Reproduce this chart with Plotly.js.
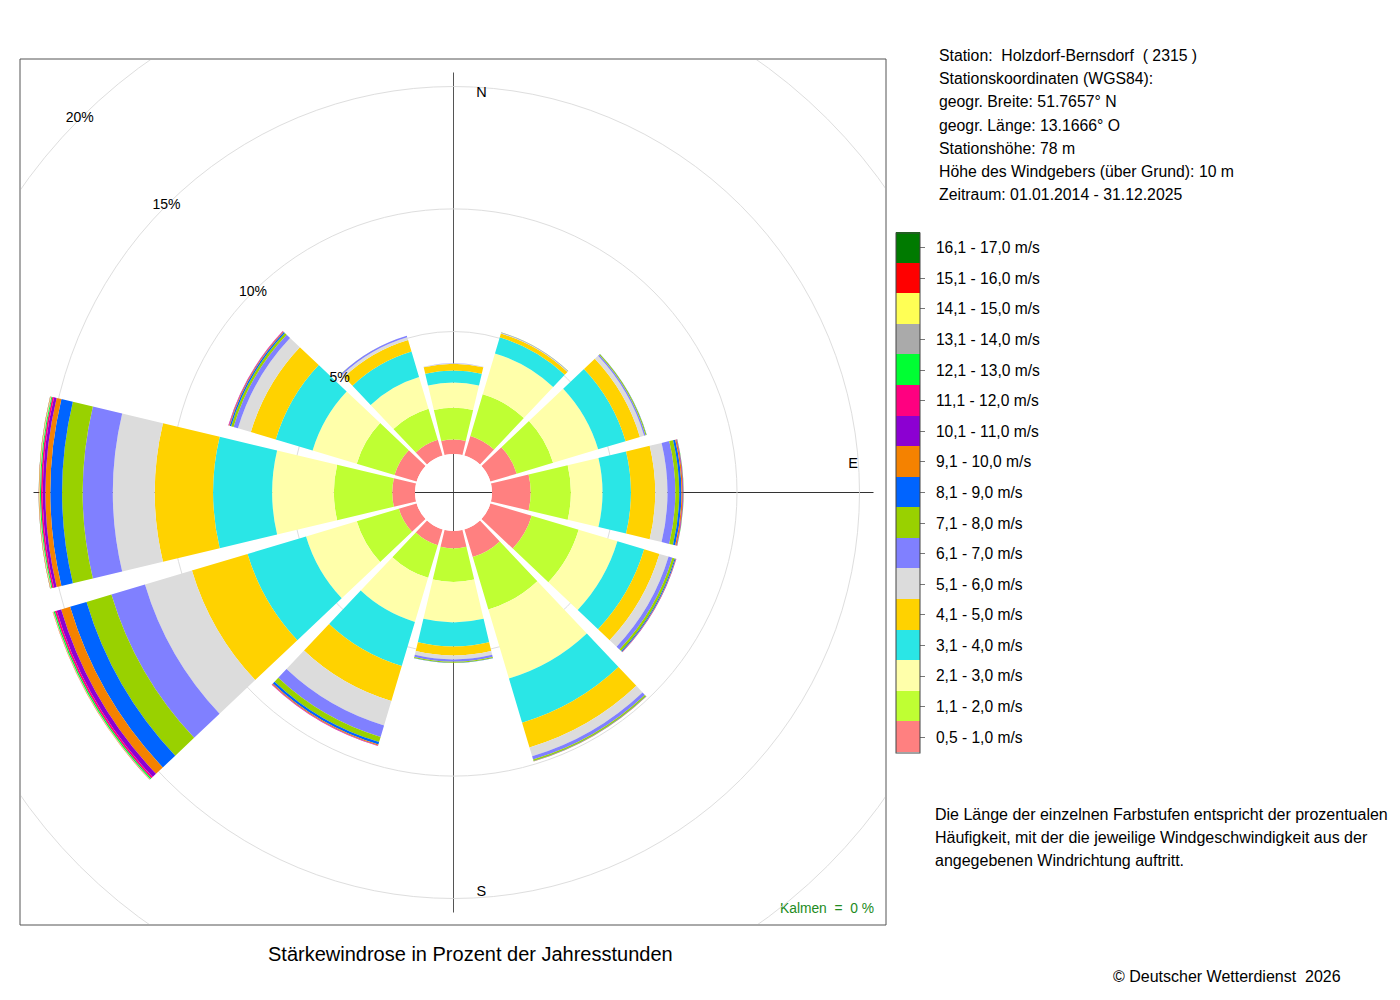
<!DOCTYPE html>
<html>
<head>
<meta charset="utf-8">
<script src="https://cdn.plot.ly/plotly-3.0.1.min.js"></script>
<style>
  html, body { margin:0; padding:0; background:#fff; }
  #bg { position:absolute; left:0; top:0; width:1400px; height:1000px; }
  #clip { position:absolute; left:21px; top:60px; width:864px; height:864px; overflow:hidden; }
  #rose { position:absolute; }
</style>
</head>
<body>
<div id="bg"></div>
<div id="clip"><div id="rose"></div></div>
<script>
// ---------------- data ----------------
const directions = [0, 30, 60, 90, 120, 150, 180, 210, 240, 270, 300, 330];

const speedLabels = [
  '0,5 - 1,0 m/s', '1,1 - 2,0 m/s', '2,1 - 3,0 m/s', '3,1 - 4,0 m/s',
  '4,1 - 5,0 m/s', '5,1 - 6,0 m/s', '6,1 - 7,0 m/s', '7,1 - 8,0 m/s',
  '8,1 - 9,0 m/s', '9,1 - 10,0 m/s', '10,1 - 11,0 m/s', '11,1 - 12,0 m/s',
  '12,1 - 13,0 m/s', '13,1 - 14,0 m/s', '14,1 - 15,0 m/s', '15,1 - 16,0 m/s',
  '16,1 - 17,0 m/s'
];
const speedColors = [
  '#FF8080', '#BFFF33', '#FFFFAA', '#2AE6E6', '#FFD200', '#DCDCDC',
  '#8080FF', '#99D100', '#0064FF', '#F58200', '#8C00D2', '#FF0080',
  '#00FF33', '#AAAAAA', '#FFFF55', '#FF0000', '#007A00'
];

// percentage of annual hours per direction (N, 30, 60, ... 330)
const v05_10  = [0.59, 0.84, 1.12, 1.58, 1.76, 1.18, 0.71, 0.67, 0.76, 0.93, 0.94, 0.67];
const v11_20  = [1.30, 1.77, 1.55, 1.64, 2.00, 2.23, 1.37, 1.39, 1.79, 2.38, 1.61, 1.33];
const v21_30  = [1.03, 1.74, 1.92, 1.29, 1.65, 2.94, 1.65, 1.88, 2.16, 2.52, 1.88, 1.35];
const v31_40  = [0.49, 0.69, 1.17, 1.16, 1.14, 1.88, 0.98, 1.88, 2.49, 2.41, 1.57, 1.08];
const v41_50  = [0.27, 0.16, 0.61, 0.99, 0.65, 1.06, 0.37, 1.49, 2.37, 2.38, 1.06, 0.49];
const v51_60  = [0.02, 0.02, 0.18, 0.50, 0.39, 0.37, 0.16, 1.04, 2.00, 1.71, 0.55, 0.12];
const v61_70  = [0.01, 0.02, 0.06, 0.32, 0.16, 0.14, 0.09, 0.49, 1.43, 1.23, 0.19, 0.06];
const v71_80  = [0.00, 0.01, 0.04, 0.16, 0.10, 0.06, 0.04, 0.22, 1.06, 0.84, 0.10, 0.01];
const v81_90  = [0.00, 0.00, 0.01, 0.09, 0.04, 0.02, 0.01, 0.10, 0.70, 0.48, 0.06, 0.00];
const v91_100 = [0.00, 0.00, 0.00, 0.05, 0.02, 0.01, 0.00, 0.04, 0.38, 0.20, 0.03, 0.00];
const v101_110= [0.00, 0.00, 0.00, 0.02, 0.01, 0.00, 0.00, 0.02, 0.19, 0.11, 0.02, 0.00];
const v111_120= [0.00, 0.00, 0.00, 0.01, 0.00, 0.00, 0.00, 0.01, 0.08, 0.07, 0.01, 0.00];
const v121_130= [0.00, 0.00, 0.00, 0.01, 0.00, 0.00, 0.00, 0.00, 0.05, 0.04, 0.00, 0.00];
const v131_140= [0.00, 0.00, 0.00, 0.00, 0.00, 0.00, 0.00, 0.00, 0.02, 0.02, 0.00, 0.00];
const v141_150= [0.00, 0.00, 0.00, 0.00, 0.00, 0.00, 0.00, 0.00, 0.01, 0.02, 0.00, 0.00];
const v151_160= [0.00, 0.00, 0.00, 0.00, 0.00, 0.00, 0.00, 0.00, 0.01, 0.01, 0.00, 0.00];
const v161_170= [0.00, 0.00, 0.00, 0.00, 0.00, 0.00, 0.00, 0.00, 0.00, 0.005, 0.00, 0.00];

const series = [v05_10, v11_20, v21_30, v31_40, v41_50, v51_60, v61_70, v71_80,
  v81_90, v91_100, v101_110, v111_120, v121_130, v131_140, v141_150, v151_160, v161_170];

const ringValues = [5, 10, 15, 20];
const ringLabels = ['5%', '10%', '15%', '20%'];
const compassLabels = ['N', 'E', 'S'];
const compassTheta = [4, 86, 176];

const stationInfo = [
  'Station:  Holzdorf-Bernsdorf  ( 2315 )',
  'Stationskoordinaten (WGS84):',
  'geogr. Breite: 51.7657° N',
  'geogr. Länge: 13.1666° O',
  'Stationshöhe: 78 m',
  'Höhe des Windgebers (über Grund): 10 m',
  'Zeitraum: 01.01.2014 - 31.12.2025'
];
const explanation = [
  'Die Länge der einzelnen Farbstufen entspricht der prozentualen',
  'Häufigkeit, mit der die jeweilige Windgeschwindigkeit aus der',
  'angegebenen Windrichtung auftritt.'
];
const chartTitle = 'Stärkewindrose in Prozent der Jahresstunden';
const calmText = 'Kalmen  =  0 %';
const copyright = '© Deutscher Wetterdienst  2026';

// ---------------- geometry ----------------
const FONT = 'Liberation Sans, Arial, Helvetica, sans-serif';
const W = 1400, H = 1000;
const CX = 453, CY = 492;           // rose centre on page
const HOLE_PX = 38.5;               // radius of the empty centre
const PX_PER_PCT = 24.5;            // radial scale
const RMAX = 22;                    // radial range shown (clipped by frame)
const RADIUS = HOLE_PX + PX_PER_PCT * RMAX;
const SIZE = 2 * RADIUS;
const CLIP_L = 21, CLIP_T = 60;
const LABEL_R = (400.5 - HOLE_PX) / PX_PER_PCT;  // compass label radius in %
const CROSS_PX = 420;               // half length of the N-S / E-W lines

// ---------------- rose ----------------
const roseDiv = document.getElementById('rose');
roseDiv.style.left = (CX - CLIP_L - RADIUS) + 'px';
roseDiv.style.top = (CY - CLIP_T - RADIUS) + 'px';
roseDiv.style.width = SIZE + 'px';
roseDiv.style.height = SIZE + 'px';

const roseTraces = series.map((vals, i) => ({
  type: 'barpolar',
  r: vals,
  theta: directions,
  width: directions.map(() => 26.8),
  name: speedLabels[i],
  marker: { color: speedColors[i], line: { width: 0 } },
  hoverinfo: 'skip',
  showlegend: false
}));

roseTraces.push({
  type: 'scatterpolar',
  mode: 'text',
  r: ringValues,
  theta: ringValues.map(() => 315),
  text: ringLabels,
  textposition: 'middle center',
  textfont: { family: FONT, size: 14, color: '#000' },
  hoverinfo: 'skip',
  showlegend: false
});
roseTraces.push({
  type: 'scatterpolar',
  mode: 'text',
  r: compassLabels.map(() => LABEL_R),
  theta: compassTheta,
  text: compassLabels,
  textposition: 'middle center',
  textfont: { family: FONT, size: 14.5, color: '#000' },
  hoverinfo: 'skip',
  showlegend: false
});

const crossFrac = CROSS_PX / SIZE;
const roseLayout = {
  width: SIZE, height: SIZE,
  margin: { l: 0, r: 0, t: 0, b: 0, pad: 0 },
  paper_bgcolor: 'rgba(0,0,0,0)',
  plot_bgcolor: 'rgba(0,0,0,0)',
  showlegend: false,
  polar: {
    domain: { x: [0, 1], y: [0, 1] },
    hole: HOLE_PX / RADIUS,
    bgcolor: 'rgba(0,0,0,0)',
    barmode: 'stack',
    bargap: 0,
    angularaxis: {
      rotation: 90, direction: 'clockwise',
      showgrid: false, showline: false, showticklabels: false, ticks: ''
    },
    radialaxis: {
      range: [0, RMAX],
      tickvals: ringValues,
      showticklabels: false, ticks: '', showline: false,
      showgrid: true, gridcolor: '#DEDEDE', gridwidth: 1
    }
  },
  shapes: [
    { type: 'line', xref: 'paper', yref: 'paper', layer: 'below',
      x0: 0.5, x1: 0.5, y0: 0.5 - crossFrac, y1: 0.5 + crossFrac,
      line: { color: '#555', width: 1 } },
    { type: 'line', xref: 'paper', yref: 'paper', layer: 'below',
      x0: 0.5 - crossFrac, x1: 0.5 + crossFrac, y0: 0.5, y1: 0.5,
      line: { color: '#333', width: 1 } }
  ]
};

// ---------------- page: frame, texts, colour key ----------------
const n = speedLabels.length;
const colorscale = [];
speedColors.forEach((c, i) => { colorscale.push([i / n, c]); colorscale.push([(i + 1) / n, c]); });

const keyTrace = {
  type: 'scatter', mode: 'markers',
  x: [-10], y: [-10],
  marker: {
    color: [0], cmin: 0, cmax: n, colorscale: colorscale, opacity: 0,
    showscale: true,
    colorbar: {
      x: 896 / W, xanchor: 'left', xpad: 0,
      y: 1 - 492.5 / H, yanchor: 'middle', ypad: 0,
      len: 520, lenmode: 'pixels',
      thickness: 24, thicknessmode: 'pixels',
      outlinecolor: '#444', outlinewidth: 1,
      tickvals: speedLabels.map((_, i) => i + 0.5),
      ticktext: speedLabels.map(s => '\u2002' + s),
      ticks: 'outside', ticklen: 5, tickcolor: '#777', tickwidth: 1,
      tickfont: { family: FONT, size: 15.6, color: '#000' }
    }
  },
  hoverinfo: 'skip', showlegend: false
};

const ann = [];
stationInfo.forEach((t, i) => ann.push({
  text: t, xref: 'paper', yref: 'paper', x: 937 / W, y: 1 - (55.5 + i * 23.2) / H,
  xanchor: 'left', yanchor: 'middle', showarrow: false,
  font: { family: FONT, size: 15.8, color: '#000' }
}));
explanation.forEach((t, i) => ann.push({
  text: t, xref: 'paper', yref: 'paper', x: 933 / W, y: 1 - (814.5 + i * 23) / H,
  xanchor: 'left', yanchor: 'middle', showarrow: false,
  font: { family: FONT, size: 16, color: '#000' }
}));
ann.push({
  text: chartTitle, xref: 'paper', yref: 'paper', x: 470.5 / W, y: 1 - 954 / H,
  xanchor: 'center', yanchor: 'middle', showarrow: false,
  font: { family: FONT, size: 20, color: '#000' }
});
ann.push({
  text: calmText, xref: 'paper', yref: 'paper', x: 876 / W, y: 1 - 908 / H,
  xanchor: 'right', yanchor: 'middle', showarrow: false,
  font: { family: FONT, size: 13.8, color: '#228B22' }
});
ann.push({
  text: copyright, xref: 'paper', yref: 'paper', x: 1343 / W, y: 1 - 976 / H,
  xanchor: 'right', yanchor: 'middle', showarrow: false,
  font: { family: FONT, size: 16, color: '#000' }
});

const bgLayout = {
  width: W, height: H,
  margin: { l: 0, r: 0, t: 0, b: 0, pad: 0 },
  paper_bgcolor: '#fff', plot_bgcolor: 'rgba(0,0,0,0)',
  xaxis: { visible: false, range: [0, 1], fixedrange: true },
  yaxis: { visible: false, range: [0, 1], fixedrange: true },
  showlegend: false,
  shapes: [{
    type: 'rect', xref: 'paper', yref: 'paper',
    x0: 20 / W, x1: 886 / W, y0: 1 - 925 / H, y1: 1 - 59 / H,
    line: { color: '#555', width: 1 }, fillcolor: 'rgba(0,0,0,0)'
  }],
  annotations: ann
};

Plotly.newPlot('bg', [keyTrace], bgLayout, { staticPlot: true });
Plotly.newPlot('rose', roseTraces, roseLayout, { staticPlot: true });
</script>
</body>
</html>
